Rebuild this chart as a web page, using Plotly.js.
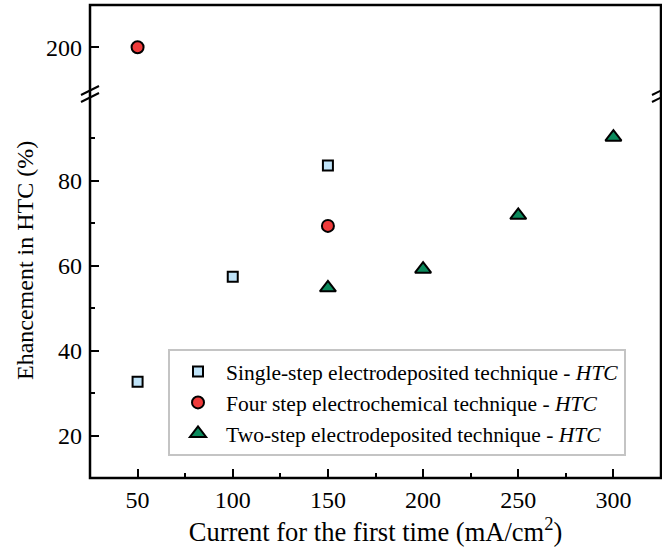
<!DOCTYPE html>
<html>
<head>
<meta charset="utf-8">
<script src="https://cdn.plot.ly/plotly-3.0.1.min.js"></script>
<style>html,body{margin:0;padding:0;background:#fff;}#chart{width:662px;height:556px;}</style>
</head>
<body>
<div id="chart"></div>
<script>
// ---- data ----
const singleX = [50, 100, 150];
const singleY = [32.7, 57.4, 83.6];
const fourX = [50, 150];
const fourY = [200, 69.4];
const twoX = [150, 200, 250, 300];
const twoY = [54.8, 59.2, 71.9, 90.3];
const seriesNames = [
  'Single-step electrodeposited technique - <i>HTC</i>',
  'Four step electrochemical technique - <i>HTC</i>',
  'Two-step electrodeposited technique - <i>HTC</i>'
];
const xTickVals = [50, 100, 150, 200, 250, 300];
const yLowTickVals = [20, 40, 60, 80];
const yHighTickVals = [200];
const breakValue = 150; // values above go in the upper panel

const xTitle = 'Current for the first time (mA/cm<sup>2</sup>)';
const yTitle = 'Ehancement in HTC (%)';

const font = 'Liberation Serif, Times New Roman, serif';

function split(xs, ys) {
  const lo = {x: [], y: []}, hi = {x: [], y: []};
  xs.forEach((x, i) => { const t = ys[i] > breakValue ? hi : lo; t.x.push(x); t.y.push(ys[i]); });
  return {lo, hi};
}

const styles = [
  {symbol: 'square', size: 10, color: '#bfe3f8'},
  {symbol: 'circle', size: 12, color: '#ef3b3b'},
  {symbol: 'triangle-up', size: 14, color: '#0b8a5c'}
];
const sets = [[singleX, singleY], [fourX, fourY], [twoX, twoY]];
const traces = [];
sets.forEach((s, k) => {
  const p = split(s[0], s[1]);
  const mk = {symbol: styles[k].symbol, size: styles[k].size, color: styles[k].color, line: {color: '#000', width: 2}};
  traces.push({x: p.lo.x, y: p.lo.y, xaxis: 'x', yaxis: 'y', type: 'scatter', mode: 'markers',
    name: seriesNames[k], marker: mk, legendgroup: 'g' + k, showlegend: true});
  if (p.hi.x.length) {
    traces.push({x: p.hi.x, y: p.hi.y, xaxis: 'x', yaxis: 'y2', type: 'scatter', mode: 'markers',
      name: seriesNames[k], marker: mk, legendgroup: 'g' + k, showlegend: false});
  }
});

// geometry in pixels
const L = 90, R = 661, T = 5, B = 478;
const H = B - T;
const lowTopPx = 96, highBotPx = 89.5;
const lowDom = [0, (B - lowTopPx) / H];
const highDom = [(B - highBotPx) / H, 1];
const breakY1 = (B - 90.5) / H, breakY2 = (B - 97.5) / H;

function slash(xa, ya) {
  return {type: 'line', xref: 'paper', yref: 'paper', xsizemode: 'pixel', ysizemode: 'pixel',
    xanchor: xa, yanchor: ya, x0: -9, x1: 9, y0: -4.5, y1: 4.5, line: {color: '#000', width: 2}};
}

const layout = {
  width: 662, height: 556,
  margin: {l: L, r: 662 - R, t: T, b: 556 - B},
  paper_bgcolor: '#fff', plot_bgcolor: '#fff',
  font: {family: font, size: 24, color: '#000'},
  showlegend: true,
  legend: {
    x: (168 - L) / (R - L), y: (B - 349) / H, xanchor: 'left', yanchor: 'top',
    bgcolor: '#fff', bordercolor: '#c4c4c4', borderwidth: 2,
    font: {family: font, size: 21.5, color: '#000'}, itemwidth: 46, tracegroupgap: 0,
    entrywidth: 416, entrywidthmode: 'pixels'
  },
  xaxis: {
    domain: [0, 1], anchor: 'y', range: [25, 325],
    tickvals: xTickVals, ticks: 'inside', ticklen: 9, tickwidth: 2, tickcolor: '#000',
    minor: {dtick: 25, tick0: 25, ticks: 'inside', ticklen: 5, tickwidth: 2, tickcolor: '#000'},
    showgrid: false, zeroline: false, showline: false,
    tickfont: {family: font, size: 24}, ticklabelstandoff: 5,
    title: {text: xTitle, font: {family: font, size: 26.5}, standoff: 6}
  },
  yaxis: {
    domain: lowDom, anchor: 'x', range: [10, 100],
    tickvals: yLowTickVals, ticks: 'inside', ticklen: 9, tickwidth: 2, tickcolor: '#000',
    minor: {dtick: 10, tick0: 10, ticks: 'inside', ticklen: 5, tickwidth: 2, tickcolor: '#000'},
    showgrid: false, zeroline: false, showline: false,
    tickfont: {family: font, size: 24}, ticklabelstandoff: 7
  },
  yaxis2: {
    domain: highDom, anchor: 'x', range: [190, 210],
    tickvals: yHighTickVals, ticks: 'inside', ticklen: 9, tickwidth: 2, tickcolor: '#000',
    showgrid: false, zeroline: false, showline: false,
    tickfont: {family: font, size: 24}, ticklabelstandoff: 7
  },
  shapes: [
    {type: 'rect', xref: 'paper', yref: 'paper', x0: 0, x1: 1, y0: 0, y1: 1, line: {color: '#000', width: 2.5}, layer: 'above'},
    slash(0, breakY1), slash(0, breakY2), slash(1, breakY1), slash(1, breakY2)
  ],
  annotations: [{
    text: yTitle, xref: 'paper', yref: 'paper', x: (25 - L) / (R - L), y: (B - 261) / H,
    xanchor: 'center', yanchor: 'middle', textangle: -90, showarrow: false,
    font: {family: font, size: 24, color: '#000'}
  }]
};

Plotly.newPlot('chart', traces, layout, {staticPlot: true, displayModeBar: false});
</script>
</body>
</html>
